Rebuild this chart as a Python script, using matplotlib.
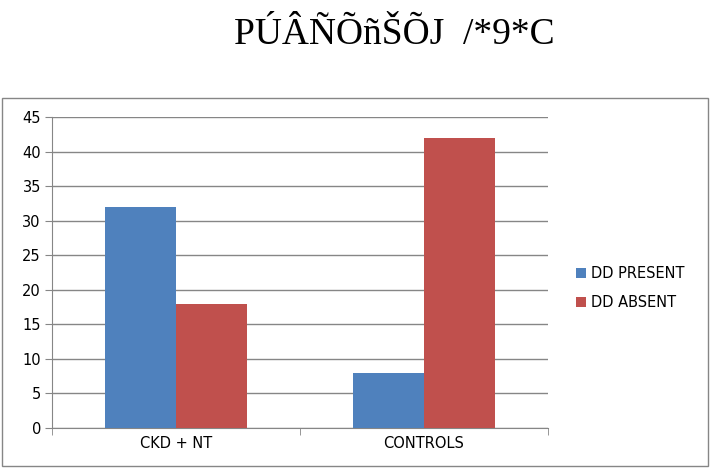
import matplotlib.pyplot as plt
from matplotlib.patches import Rectangle

categories = ['CKD + NT', 'CONTROLS']
dd_present = [32, 8]
dd_absent = [18, 42]
title_text = 'PÚÂÑÕñŠÕJ  /*9*C'

fig = plt.figure(figsize=(7.22, 4.68), dpi=100)
ax = fig.add_axes([52/722, 40/468, 496/722, 311/468])

w = 0.285
x = [0, 1]
ax.bar([i - w/2 for i in x], dd_present, w, color='#4F81BD', label='DD PRESENT', zorder=3)
ax.bar([i + w/2 for i in x], dd_absent, w, color='#C0504D', label='DD ABSENT', zorder=3)

ax.set_xlim(-0.5, 1.5)
ax.set_ylim(0, 45)
ax.set_yticks(range(0, 46, 5))
ax.set_xticks(x)
ax.set_xticklabels(categories)
ax.tick_params(axis='x', length=0, labelsize=10.5, pad=6)
ax.set_xticks([-0.5, 0.5, 1.5], minor=True)
ax.tick_params(axis='x', which='minor', length=5, color='#868686', direction='out')
ax.tick_params(axis='y', length=5, color='#868686', labelsize=10.5, pad=3)
ax.grid(axis='y', color='#868686', linewidth=1, zorder=0)
for s in ['top', 'right']:
    ax.spines[s].set_visible(False)
ax.spines['left'].set_color('#868686')
ax.spines['bottom'].set_color('#868686')

ax.legend(loc='center left', bbox_to_anchor=(1.03, 0.45), frameon=False,
          fontsize=10.5, handlelength=0.7, handleheight=0.7, handletextpad=0.3,
          labelspacing=1.0)

fig.patches.append(Rectangle((2/722, 2/468), 706/722, 368/468, transform=fig.transFigure,
                             fill=False, edgecolor='#868686', linewidth=1))

fig.text(394/722, 1 - 35/468, title_text, ha='center', va='center',
         fontsize=27, family='Liberation Serif')

fig.savefig('out.png', dpi=100)
